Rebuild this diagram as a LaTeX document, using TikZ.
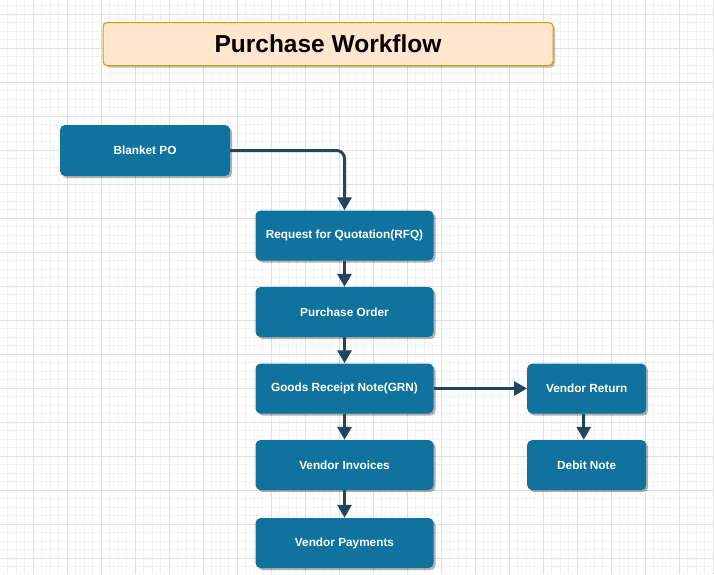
\documentclass[tikz,border=0pt]{standalone}
\usepackage{fontspec}
\setmainfont{Liberation Sans}
\usetikzlibrary{arrows.meta,shadows}
\definecolor{boxblue}{HTML}{10739E}
\definecolor{flowdark}{HTML}{23445D}
\definecolor{titlefill}{HTML}{FFE6CC}
\definecolor{titleline}{HTML}{D79B00}
\begin{document}
\begin{tikzpicture}[x=1pt,y=-1pt,
    gridminor/.style={draw=black!5, line width=0.8pt},
    gridmajor/.style={draw=black!12, line width=0.8pt},
    doc/.style={fill=boxblue, rounded corners=5pt, text=white, align=center, font=\fontsize{11.8}{14}\selectfont\bfseries, minimum width=178pt, minimum height=50pt, inner sep=2pt, drop shadow={shadow xshift=2pt, shadow yshift=-2pt, opacity=0.3, fill=black}},
    flow/.style={draw=flowdark, line width=3pt, -{Triangle[length=13pt,width=14pt]}}]
    \useasboundingbox (0,0) rectangle (714,574);
    \fill[white] (0,0) rectangle (714,574);
    % grid
    \begin{scope}
    \clip (0,0) rectangle (714,574);
    \foreach \i in {0,...,85} \draw[gridminor] ({-0.7+8.5*\i},0) -- ({-0.7+8.5*\i},574);
    \foreach \i in {0,...,69} \draw[gridminor] (0,{-2.7+8.5*\i}) -- (714,{-2.7+8.5*\i});
    \foreach \i in {0,...,21} \draw[gridmajor] ({-0.7+34*\i},0) -- ({-0.7+34*\i},574);
    \foreach \i in {0,...,17} \draw[gridmajor] (0,{14.3+34*\i}) -- (714,{14.3+34*\i});
    \end{scope}
    \node[draw=titleline, line width=1pt, fill=titlefill, rounded corners=4pt, minimum width=450pt, minimum height=43pt, font=\fontsize{24.5}{28}\selectfont\bfseries, drop shadow={shadow xshift=2pt, shadow yshift=-2pt, opacity=0.25, fill=black}] (title) at (328,44) {Purchase Workflow};
    \node[doc, minimum width=170pt, minimum height=51pt] (blanket) at (145,150.5) {Blanket PO};
    \node[doc] (rfq) at (344.5,235.5) {Request for Quotation(RFQ)};
    \node[doc] (po) at (344.5,312) {Purchase Order};
    \node[doc] (grn) at (344.5,388.5) {Goods Receipt Note(GRN)};
    \node[doc] (invoices) at (344.5,465) {Vendor Invoices};
    \node[doc] (payments) at (344.5,543) {Vendor Payments};
    \node[doc, minimum width=119pt] (return) at (586.7,388.5) {Vendor Return};
    \node[doc, minimum width=119pt] (debit) at (586.7,465) {Debit Note};
    \draw[flow, rounded corners=8pt] (blanket.east) -| (rfq.north);
    \draw[flow] (rfq) -- (po);
    \draw[flow] (po) -- (grn);
    \draw[flow] (grn) -- (invoices);
    \draw[flow] (invoices) -- (payments);
    \draw[flow] (grn) -- (return);
    \draw[flow] ([xshift=-3pt]return.south) -- ([xshift=-3pt]debit.north);
\end{tikzpicture}
\end{document}
